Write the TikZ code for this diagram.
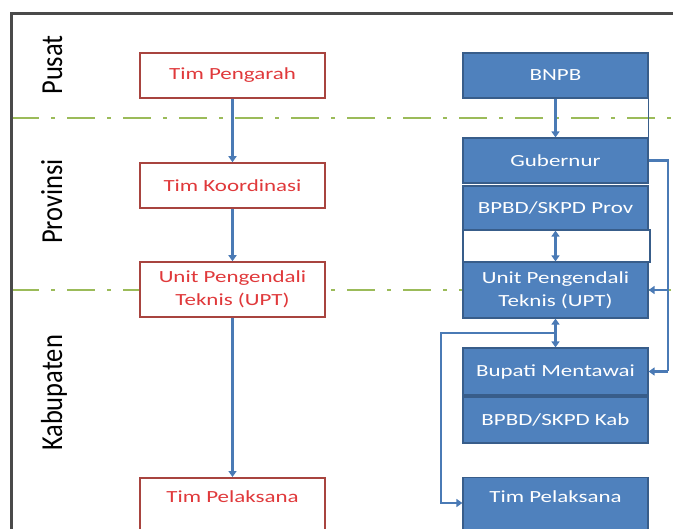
\documentclass[tikz,border=0pt]{standalone}
\usepackage{fontspec}
\setmainfont{Carlito}
\newfontfamily\boxfont[FakeStretch=1.35]{Carlito}
\usetikzlibrary{arrows.meta}
\definecolor{bluefill}{HTML}{4F81BD}
\definecolor{blueline}{HTML}{385D8A}
\definecolor{arrowblue}{HTML}{4A7AB5}
\definecolor{redline}{HTML}{A8443F}
\definecolor{redtext}{HTML}{E0393B}
\definecolor{levelline}{HTML}{9BBB59}
\definecolor{framegray}{HTML}{4A4A4A}
\begin{document}
\begin{tikzpicture}[x=1pt,y=-1pt,
  boxtext/.style={font=\boxfont\fontsize{17}{23}\selectfont, align=center, inner xsep=0pt, inner ysep=0pt, minimum width=185pt},
  bluebox/.style={boxtext, draw=blueline, line width=1.2pt, fill=bluefill, text=white},
  redbox/.style={boxtext, draw=redline, line width=1.5pt, fill=white, text=redtext},
  gapbox/.style={draw=blueline, line width=1.2pt, fill=white, minimum width=187pt, inner sep=0pt},
  tallbox/.style={text height=12pt, text depth=70pt, inner ysep=13pt, anchor=north},
  levellabel/.style={rotate=90, anchor=base, inner sep=0pt, font=\fontsize{26.5}{30}\selectfont, text=black},
  levelsep/.style={draw=levelline, line width=2.6pt, dash pattern=on 28pt off 12pt on 4pt off 12pt},
  conn/.style={draw=arrowblue, line width=2.4pt},
  thinconn/.style={draw=blueline, line width=1.2pt},
  link/.style={conn, -{Triangle[width=8pt,length=6pt]}},
  dlink/.style={conn, {Triangle[width=8pt,length=6pt]}-{Triangle[width=8pt,length=6pt]}}
]
\useasboundingbox (0,0) rectangle (675,529);

% level separators
\draw[levelsep] (11,118) -- (675,118);
\draw[levelsep] (11,290) -- (675,290);

% frame
\draw[framegray, line width=3pt] (11,529) -- (11,14) -- (673,14);

% level labels (baseline on the right, reading upwards)
\node[levellabel] (pusat) at (62,65) {\scalebox{1}[1.15]{Pusat}};
\node[levellabel] (prov) at (62,201.5) {\scalebox{1}[1.15]{Provinsi}};
\node[levellabel] (kab) at (62,393) {\scalebox{1}[1.15]{Kabupaten}};

% left column
\node[redbox, minimum height=45pt] (pengarah) at (232.5,75.5) {Tim Pengarah};
\node[redbox, minimum height=45pt] (koord) at (232.5,185.5) {Tim Koordinasi};
\node[redbox, minimum height=55pt] (uptl) at (232.5,289.5) {Unit Pengendali\\Teknis (UPT)};
\node[redbox, tallbox] (pell) at (232.5,477) {Tim Pelaksana};

% right column
\node[bluebox, minimum height=45pt] (bnpb) at (555.5,75.5) {BNPB};
\node[bluebox, minimum height=45pt] (gub) at (555.5,160.5) {Gubernur};
\node[bluebox, minimum height=44pt] (bpbdp) at (555.5,208) {BPBD/SKPD Prov};
\node[gapbox, minimum height=32pt] (gap) at (556.5,246) {};
\node[bluebox, minimum height=56pt] (uptr) at (555.5,290) {Unit Pengendali\\Teknis (UPT)};
\node[bluebox, minimum height=47pt] (bupati) at (555.5,371.5) {Bupati Mentawai};
\node[bluebox, minimum height=46pt] (bpbdk) at (555.5,420) {BPBD/SKPD Kab};
\node[bluebox, tallbox] (pelr) at (555.5,477) {Tim Pelaksana};

% left chain
\draw[link] (pengarah) -- (koord);
\draw[link] (koord) -- (uptl);
\draw[link] (uptl) -- (pell);

% right chain
\draw[thinconn] (bnpb.south east) -- (gub.north east);
\draw[link] (bnpb) -- (gub);
\draw[dlink] (bpbdp.south) -- (uptr.north);
\draw[dlink] (uptr) -- (bupati);

% branch to the district team
\coordinate (jn) at (555.5,333);
\coordinate (lb1) at (441,333);
\coordinate (lb2) at (441,503);
\draw[link] (jn) -- (lb1) -- (lb2) -- (lb2 -| pelr.west);

% bracket on the right
\coordinate (rb1) at (668,160.5);
\coordinate (rb2) at (668,371.5);
\draw[conn] (gub.east) -- (rb1) -- (rb2);
\draw[link] (rb2) -- (bupati.east);
\draw[link] (uptr.east -| rb1) -- (uptr.east);
\end{tikzpicture}
\end{document}
